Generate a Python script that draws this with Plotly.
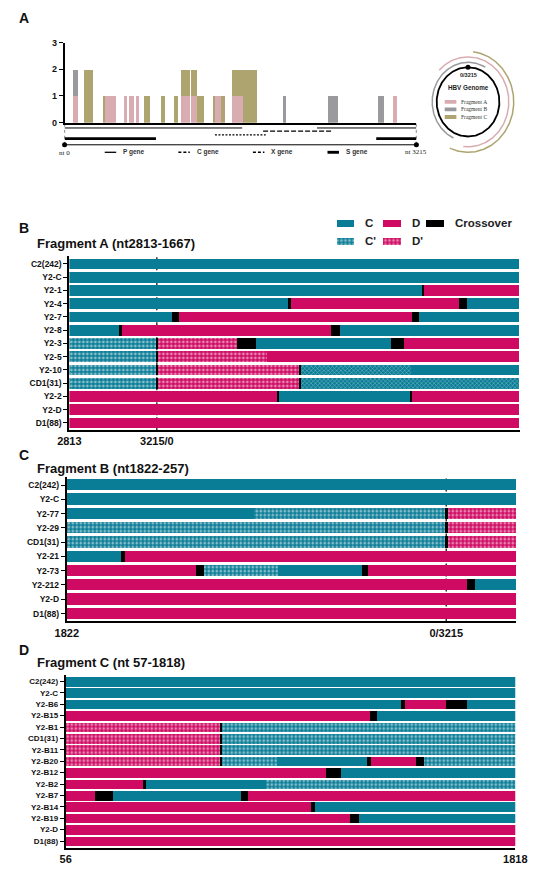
import math
import plotly.graph_objects as go

W, H = 546, 873
GENOME_LEN = 3215

# ---------------- Panel A: recombination breakpoints along the HBV genome ----------------
bin_start = [72, 170, 347, 368, 546, 589, 650, 725, 877, 999, 1061, 1154, 1207,
             1349, 1375, 1428, 1523, 1628, 1995, 2405, 2859, 2998]
bin_end = [120, 258, 368, 464, 563, 633, 677, 777, 912, 1034, 1139, 1207, 1270,
           1375, 1428, 1460, 1628, 1751, 2021, 2492, 2911, 3033]
count_frag_A = [1, 0, 0, 1, 1, 1, 1, 0, 0, 0, 1, 1, 0, 0, 1, 0, 1, 0, 0, 0, 0, 1]
count_frag_B = [1, 0, 0, 0, 0, 0, 0, 0, 0, 0, 0, 0, 0, 0, 0, 0, 0, 0, 1, 1, 1, 0]
count_frag_C = [0, 2, 1, 0, 0, 0, 0, 1, 1, 1, 1, 1, 1, 1, 0, 1, 1, 2, 0, 0, 0, 0]
count_ticks = [0, 1, 2, 3]

fragment_names = ["Fragment A", "Fragment B", "Fragment C"]
fragment_from = [2813, 1822, 57]
fragment_to = [1667, 257, 1818]

gene_names = ["P gene", "C gene", "X gene", "S gene"]
gene_from = [2307, 1814, 1374, 2848]
gene_to = [1623, 2452, 1838, 835]

# ---------------- Panel B: Fragment A (nt2813-1667), positions = nt from fragment start ----------------
fragA_rows = ["C2(242)", "Y2-C", "Y2-1", "Y2-4", "Y2-7", "Y2-8", "Y2-3", "Y2-5",
              "Y2-10", "CD1(31)", "Y2-2", "Y2-D", "D1(88)"]
fragA_segments = [
    [("C", 2069)],
    [("C", 2069)],
    [("C", 1626), ("X", 1632), ("D", 2069)],
    [("C", 1004), ("X", 1022), ("D", 1792), ("X", 1829), ("C", 2069)],
    [("C", 471), ("X", 506), ("D", 1577), ("X", 1608), ("C", 2069)],
    [("C", 232), ("X", 243), ("D", 1204), ("X", 1243), ("C", 2069)],
    [("Cp", 400), ("X", 406), ("Dp", 770), ("X", 857), ("C", 1479), ("X", 1537), ("D", 2069)],
    [("Cp", 400), ("X", 406), ("Dp", 911), ("D", 2069)],
    [("Cp", 400), ("X", 406), ("Dp", 1060), ("X", 1068), ("Cq", 1572), ("C", 2069)],
    [("Cp", 400), ("X", 406), ("Dp", 1060), ("X", 1068), ("Cq", 2069)],
    [("D", 959), ("X", 966), ("C", 1568), ("X", 1577), ("D", 2069)],
    [("D", 2069)],
    [("D", 2069)],
]
fragA_range = [0, 2069]
fragA_tickvals = [0, 402]
fragA_ticktext = ["2813", "3215/0"]
fragA_junction = 402

# ---------------- Panel C: Fragment B (nt1822-257) ----------------
fragB_rows = ["C2(242)", "Y2-C", "Y2-77", "Y2-29", "CD1(31)", "Y2-21", "Y2-73",
              "Y2-212", "Y2-D", "D1(88)"]
fragB_segments = [
    [("C", 1650)],
    [("C", 1650)],
    [("C", 687), ("Cp", 1391), ("X", 1397), ("Dp", 1650)],
    [("Cp", 1391), ("X", 1397), ("Dp", 1650)],
    [("Cp", 1391), ("X", 1397), ("Dp", 1650)],
    [("C", 198), ("X", 214), ("D", 1650)],
    [("D", 475), ("X", 503), ("Cp", 773), ("C", 1083), ("X", 1105), ("D", 1650)],
    [("D", 1470), ("X", 1498), ("C", 1650)],
    [("D", 1650)],
    [("D", 1650)],
]
fragB_range = [0, 1650]
fragB_tickvals = [0, 1393]
fragB_ticktext = ["1822", "0/3215"]
fragB_junction = 1393

# ---------------- Panel D: Fragment C (nt 57-1818), genome positions ----------------
fragC_rows = ["C2(242)", "Y2-C", "Y2-B6", "Y2-B15", "Y2-B1", "CD1(31)", "Y2-B11",
              "Y2-B20", "Y2-B12", "Y2-B2", "Y2-B7", "Y2-B14", "Y2-B19", "Y2-D", "D1(88)"]
fragC_segments = [
    [("C", 1818)],
    [("C", 1818)],
    [("C", 1369), ("X", 1386), ("D", 1545), ("X", 1626), ("C", 1818)],
    [("D", 1249), ("X", 1276), ("C", 1818)],
    [("Dp", 659), ("X", 667), ("Cp", 1818)],
    [("Dp", 659), ("X", 667), ("Cp", 1818)],
    [("Dp", 659), ("X", 667), ("Cp", 1818)],
    [("Dp", 659), ("X", 667), ("Cp", 883), ("C", 1234), ("X", 1253), ("D", 1429),
     ("X", 1461), ("Cp", 1818)],
    [("D", 1074), ("X", 1135), ("C", 1818)],
    [("D", 361), ("X", 368), ("C", 840), ("Cp", 1818)],
    [("D", 168), ("X", 240), ("C", 742), ("X", 771), ("D", 1818)],
    [("D", 1015), ("X", 1032), ("C", 1818)],
    [("D", 1171), ("X", 1204), ("C", 1818)],
    [("D", 1818)],
    [("D", 1818)],
]
fragC_range = [56, 1818]
fragC_tickvals = [56, 1818]
fragC_ticktext = ["56", "1818"]
fragC_junction = None

legend_keys = ["C", "D", "X", "Cp", "Dp"]
legend_labels = ["C", "D", "Crossover", "C'", "D'"]

# ============================ styling ============================
FONT = "Arial, 'Liberation Sans', sans-serif"
SERIF = "'Times New Roman', 'Liberation Serif', serif"
COL_C = "#0A7D96"
COL_D = "#CF0A63"
FRAG_COLORS = ["#D8ACB0", "#9A9A9E", "#ADA470"]
FRAG_RADII = [45.5, 40, 51]
CIRCLE_R = 35

SEG_STYLE = {
    "C": dict(color=COL_C),
    "D": dict(color=COL_D),
    "X": dict(color="#000000"),
    "Cp": dict(color=COL_C, pattern=dict(shape=".", fgcolor="white", size=4, solidity=0.4)),
    "Dp": dict(color=COL_D, pattern=dict(shape=".", fgcolor="white", size=4, solidity=0.4)),
    "Cq": dict(color=COL_C, pattern=dict(shape="x", fgcolor="white", size=3, solidity=0.3)),
}
SEG_DRAW_ORDER = ["C", "D", "Cp", "Dp", "Cq", "X"]


def fx(px):
    return px / W


def fy(px):
    return 1 - px / H


fig = go.Figure()
annotations = []
shapes = []

# ---------------- Panel A bars ----------------
counts = [count_frag_A, count_frag_B, count_frag_C]
running = [0] * len(bin_start)
for k in range(3):
    xs, ws, ys, bs = [], [], [], []
    for i in range(len(bin_start)):
        c = counts[k][i]
        if c > 0:
            xs.append((bin_start[i] + bin_end[i]) / 2)
            ws.append(bin_end[i] - bin_start[i])
            ys.append(c)
            bs.append(running[i])
        running[i] += c
    fig.add_trace(go.Bar(x=xs, y=ys, width=ws, base=bs, xaxis="x", yaxis="y",
                         marker=dict(color=FRAG_COLORS[k], line=dict(width=0)),
                         showlegend=False, hoverinfo="skip"))

# ---------------- gene tracks ----------------
GENE_STYLE = {
    "P gene": dict(level=0.80, width=1.0, dash="solid"),
    "C gene": dict(level=0.68, width=1.3, dash="5px,2px"),
    "X gene": dict(level=0.54, width=1.3, dash="2px,1.5px"),
    "S gene": dict(level=0.40, width=2.6, dash="solid"),
}
BOX_LEVEL = 0.17


def wrap(a, b):
    return [(a, b)] if a <= b else [(a, GENOME_LEN), (0, b)]


for name, a, b in zip(gene_names, gene_from, gene_to):
    st = GENE_STYLE[name]
    xs, ys = [], []
    for s, e in wrap(a, b):
        xs += [s, e, None]
        ys += [st["level"], st["level"], None]
    fig.add_trace(go.Scatter(x=xs, y=ys, mode="lines", xaxis="x2", yaxis="y2",
                             line=dict(color="black", width=st["width"], dash=st["dash"]),
                             showlegend=False, hoverinfo="skip"))

shapes.append(dict(type="line", xref="x2", yref="y2", x0=0, x1=GENOME_LEN,
                   y0=BOX_LEVEL, y1=BOX_LEVEL, line=dict(color="black", width=1)))
for xv in (0, GENOME_LEN):
    shapes.append(dict(type="line", xref="x2", yref="y2", x0=xv, x1=xv, y0=BOX_LEVEL, y1=1,
                       line=dict(color="black", width=1, dash="dot")))
fig.add_trace(go.Scatter(x=[0, GENOME_LEN], y=[BOX_LEVEL, BOX_LEVEL], mode="markers",
                         xaxis="x2", yaxis="y2", cliponaxis=False,
                         marker=dict(size=5, color="black"), showlegend=False, hoverinfo="skip"))
annotations.append(dict(x=0, y=BOX_LEVEL, xref="x2", yref="y2", text="nt 0", showarrow=False,
                        yshift=-8, font=dict(family=SERIF, size=7, color="#222")))
annotations.append(dict(x=GENOME_LEN, y=BOX_LEVEL, xref="x2", yref="y2", text="nt 3215",
                        showarrow=False, yshift=-7, font=dict(family=SERIF, size=7, color="#222")))

# gene legend row (paper coordinates)
GENE_LEG_Y = 149
gene_leg_x = [97, 174, 252, 330]
for name, x0 in zip(gene_names, gene_leg_x):
    st = GENE_STYLE[name]
    shapes.append(dict(type="line", xref="paper", yref="paper", x0=fx(x0), x1=fx(x0 + 12),
                       y0=fy(GENE_LEG_Y), y1=fy(GENE_LEG_Y),
                       line=dict(color="black", width=st["width"] + 0.3,
                                 dash=("solid" if st["dash"] == "solid" else "3px,2px"))))
    annotations.append(dict(x=fx(x0 + 17), y=fy(GENE_LEG_Y), xref="paper", yref="paper",
                            text=name, showarrow=False, xanchor="left", yanchor="middle",
                            font=dict(family=FONT, size=6.5, color="#333", weight="bold")))


# ---------------- genome circle ----------------
def genome_point(p, r):
    t = 2 * math.pi * p / GENOME_LEN
    return r * math.sin(t), r * math.cos(t)


def arc(a, b, r, n=240):
    if b < a:
        b += GENOME_LEN
    xs, ys = [], []
    for i in range(n + 1):
        px_, py_ = genome_point(a + (b - a) * i / n, r)
        xs.append(px_)
        ys.append(py_)
    return xs, ys


cx, cy = arc(0, GENOME_LEN, CIRCLE_R)
fig.add_trace(go.Scatter(x=cx, y=cy, mode="lines", xaxis="x3", yaxis="y3",
                         line=dict(color="black", width=1.8), showlegend=False, hoverinfo="skip"))
for k in range(3):
    ax_, ay_ = arc(fragment_from[k], fragment_to[k], FRAG_RADII[k])
    fig.add_trace(go.Scatter(x=ax_, y=ay_, mode="lines", xaxis="x3", yaxis="y3",
                             line=dict(color=FRAG_COLORS[k], width=1.5),
                             showlegend=False, hoverinfo="skip"))
dx, dy = genome_point(0, CIRCLE_R)
fig.add_trace(go.Scatter(x=[dx], y=[dy], mode="markers", xaxis="x3", yaxis="y3",
                         marker=dict(size=5, color="black"), showlegend=False, hoverinfo="skip"))
annotations.append(dict(x=0, y=27.5, xref="x3", yref="y3", text="0/3215", showarrow=False,
                        font=dict(family=FONT, size=5.5, color="#222", weight="bold")))
annotations.append(dict(x=0, y=15, xref="x3", yref="y3", text="HBV Genome", showarrow=False,
                        font=dict(family=FONT, size=6.3, color="#222", weight="bold")))
for k in range(3):
    yk = -7.6 * k
    shapes.append(dict(type="rect", xref="x3", yref="y3", x0=-26, x1=-13, y0=yk - 2, y1=yk + 2,
                       fillcolor=FRAG_COLORS[k], line=dict(width=0)))
    annotations.append(dict(x=-10.5, y=yk, xref="x3", yref="y3", text=fragment_names[k],
                            showarrow=False, xanchor="left", yanchor="middle",
                            font=dict(family=SERIF, size=5.5, color="#333")))

# ---------------- Panels B, C, D ----------------
panels = [
    dict(rows=fragA_rows, segs=fragA_segments, rng=fragA_range, tv=fragA_tickvals,
         tt=fragA_ticktext, junction=fragA_junction, ax="4",
         xdom=(60, 531), ydom=(253.9, 430.1), pad=(-0.6, 0.544), bw=0.80, yfont=8.5),
    dict(rows=fragB_rows, segs=fragB_segments, rng=fragB_range, tv=fragB_tickvals,
         tt=fragB_ticktext, junction=fragB_junction, ax="5",
         xdom=(57.3, 527.4), ydom=(477.7, 623.6), pad=(-0.55, 0.554), bw=0.79, yfont=8.5),
    dict(rows=fragC_rows, segs=fragC_segments, rng=fragC_range, tv=fragC_tickvals,
         tt=fragC_ticktext, junction=fragC_junction, ax="6",
         xdom=(56.2, 526.4), ydom=(677.4, 853), pad=(-0.6, 0.633), bw=0.85, yfont=8),
]

layout_axes = {}
for p in panels:
    per_type = {t: dict(y=[], base=[], x=[]) for t in SEG_DRAW_ORDER}
    for ri, segs in enumerate(p["segs"]):
        start = p["rng"][0]
        for t, end in segs:
            per_type[t]["y"].append(ri)
            per_type[t]["base"].append(start)
            per_type[t]["x"].append(end - start)
            start = end
    for t in SEG_DRAW_ORDER:
        d = per_type[t]
        if not d["y"]:
            continue
        st = SEG_STYLE[t]
        marker = dict(color=st["color"], line=dict(width=0))
        if "pattern" in st:
            marker["pattern"] = st["pattern"]
        fig.add_trace(go.Bar(orientation="h", y=d["y"], x=d["x"], base=d["base"], width=p["bw"],
                             xaxis="x" + p["ax"], yaxis="y" + p["ax"], marker=marker,
                             showlegend=False, hoverinfo="skip"))
    n = len(p["rows"])
    layout_axes["xaxis" + p["ax"]] = dict(
        domain=[fx(p["xdom"][0]), fx(p["xdom"][1])], range=p["rng"], anchor="y" + p["ax"],
        showline=True, linewidth=2, linecolor="black", tickvals=p["tv"], ticktext=p["tt"],
        ticks="", tickfont=dict(family=FONT, size=11, color="#111", weight="bold"),
        showgrid=False, zeroline=False)
    layout_axes["yaxis" + p["ax"]] = dict(
        domain=[fy(p["ydom"][1]), fy(p["ydom"][0])],
        range=[n - 1 + p["pad"][1], p["pad"][0]], anchor="x" + p["ax"],
        tickvals=list(range(n)), ticktext=p["rows"], ticks="outside", ticklen=4, tickwidth=1.3,
        tickcolor="black", showline=True, linewidth=2, linecolor="black",
        tickfont=dict(family=FONT, size=p["yfont"], color="#111", weight="bold"),
        showgrid=False, zeroline=False)
    if p["junction"] is not None:
        shapes.append(dict(type="line", xref="x" + p["ax"], yref="y" + p["ax"] + " domain",
                           x0=p["junction"], x1=p["junction"], y0=0, y1=1, layer="below",
                           line=dict(color="black", width=1.2, dash="3px,2px")))

# ---------------- segment legend (own small axis) ----------------
leg_col_x = [340, 389, 434]
leg_row_y = [221, 239]
for i, (key, lab) in enumerate(zip(legend_keys, legend_labels)):
    col, row = (i % 3, i // 3)
    x0, y0 = leg_col_x[col], leg_row_y[row]
    st = SEG_STYLE[key]
    marker = dict(color=st["color"], line=dict(width=0))
    if "pattern" in st:
        marker["pattern"] = st["pattern"]
    fig.add_trace(go.Bar(orientation="h", y=[y0], x=[18], base=[x0], width=7,
                         xaxis="x7", yaxis="y7", marker=marker, showlegend=False,
                         hoverinfo="skip"))
    annotations.append(dict(x=x0 + 27, y=y0, xref="x7", yref="y7", text=lab, showarrow=False,
                            xanchor="left", yanchor="middle",
                            font=dict(family=FONT, size=11.5, color="#222", weight="bold")))

# ---------------- panel labels and titles ----------------
for lab, ypx in [("A", 13), ("B", 226), ("C", 455), ("D", 652)]:
    annotations.append(dict(x=fx(5), y=fy(ypx), xref="paper", yref="paper", text=lab,
                            showarrow=False, xanchor="left", yanchor="middle",
                            font=dict(family=FONT, size=14, color="#111", weight="bold")))
for txt, ypx in [("Fragment A (nt2813-1667)", 241), ("Fragment B (nt1822-257)", 469),
                 ("Fragment C (nt 57-1818)", 665)]:
    annotations.append(dict(x=fx(24), y=fy(ypx), xref="paper", yref="paper", text=txt,
                            showarrow=False, xanchor="left", yanchor="middle",
                            font=dict(family=FONT, size=13, color="#111", weight="bold")))

fig.update_layout(
    width=W, height=H, margin=dict(l=0, r=0, t=0, b=0),
    paper_bgcolor="white", plot_bgcolor="rgba(0,0,0,0)",
    barmode="overlay", bargap=0, showlegend=False,
    font=dict(family=FONT, color="#111"),
    xaxis=dict(domain=[fx(55), fx(423)], range=[0, GENOME_LEN], anchor="y", showline=True,
               linewidth=2, linecolor="black", showticklabels=False, ticks="",
               showgrid=False, zeroline=False),
    yaxis=dict(domain=[fy(119), fy(38)], range=[0, 3], anchor="x", tickvals=count_ticks,
               ticks="outside", ticklen=4, tickwidth=1.2, tickcolor="black", showline=True,
               linewidth=1.5, linecolor="black", showgrid=False, zeroline=False,
               tickfont=dict(family=FONT, size=9, color="#111", weight="bold")),
    xaxis2=dict(domain=[fx(55), fx(423)], range=[0, GENOME_LEN], anchor="y2", visible=False),
    yaxis2=dict(domain=[fy(146), fy(119)], range=[0, 1], anchor="x2", visible=False),
    xaxis3=dict(domain=[fx(417), fx(537)], range=[-64, 64], anchor="y3", visible=False),
    yaxis3=dict(domain=[fy(158), fy(38)], range=[-60, 60], anchor="x3", visible=False),
    xaxis7=dict(domain=[fx(330), fx(546)], range=[330, 546], anchor="y7", visible=False),
    yaxis7=dict(domain=[fy(248), fy(212)], range=[248, 212], anchor="x7", visible=False),
    annotations=annotations, shapes=shapes,
    **layout_axes,
)

# reset the page's default body margin right away (not only after the plot promise resolves)
PAGE_RESET = ("document.body.style.margin='0px';document.body.style.padding='0px';"
              "document.documentElement.style.overflow='hidden';")
fig.write_html(
    "out.html",
    config={"displayModeBar": False},
    post_script="});" + PAGE_RESET + "(function(){" + PAGE_RESET,
)
